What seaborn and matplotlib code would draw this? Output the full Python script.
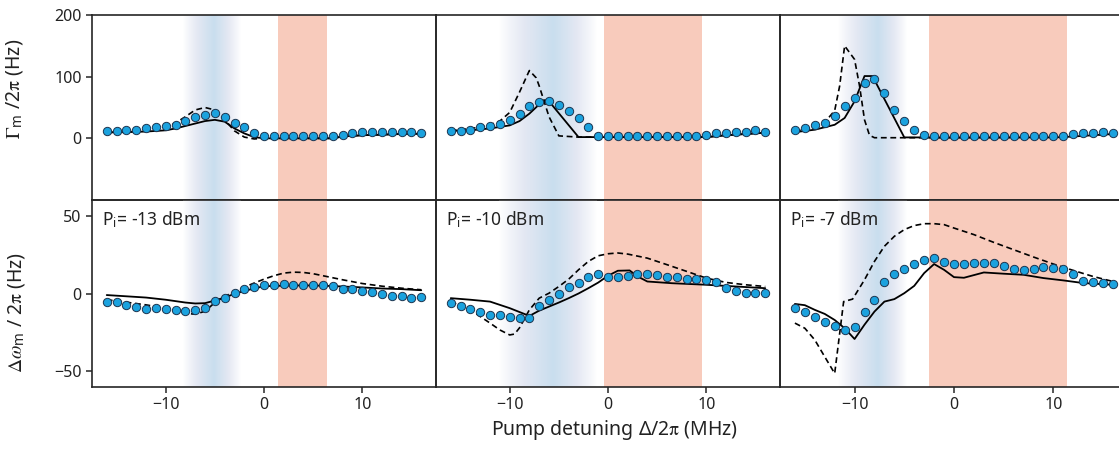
import numpy as np
import pandas as pd
import matplotlib
matplotlib.use("Agg")
import matplotlib.pyplot as plt
from matplotlib.colors import LinearSegmentedColormap
import seaborn as sns

# ---------------- data ----------------
x_dots = list(range(-16, 17))
powers = ["-13", "-10", "-7"]

# measured damping rate (top row)
gamma_dots_1 = [12, 12, 13, 14, 17, 18, 20, 22, 28, 35, 38, 41, 34, 25, 18, 9, 4,
                3, 3, 3, 3, 3, 3, 3, 6, 9, 10, 10, 10, 10, 11, 11, 9]
gamma_dots_2 = [12, 12, 14, 18, 20, 23, 30, 39, 53, 59, 60, 54, 44, 33, 18, 4, 3,
                3, 3, 3, 3, 3, 3, 3, 3, 3, 6, 9, 9, 10, 10, 13, 11]
gamma_dots_3 = [14, 17, 21, 25, 36, 53, 66, 90, 97, 73, 46, 28, 13, 5, 3, 3, 3,
                3, 3, 3, 3, 3, 3, 3, 3, 3, 3, 3, 7, 8, 9, 10, 9]

# measured frequency shift (bottom row)
shift_dots_1 = [-5.6, -5.4, -7.7, -8.6, -9.7, -9.4, -10.1, -10.5, -11.2, -10.9, -9.4,
                -4.9, -2.8, 0.4, 2.8, 4.1, 5.2, 5.2, 5.8, 5.6, 5.6, 5.6, 5.2, 4.7,
                3.2, 2.6, 1.9, 0.9, -0.6, -1.9, -1.7, -3.0, -2.1]
shift_dots_2 = [-6.4, -7.9, -9.7, -11.8, -13.5, -13.7, -14.8, -15.7, -15.7, -8.2, -3.9,
                -0.4, 4.1, 6.9, 10.5, 12.7, 10.7, 10.7, 11.2, 12.2, 12.2, 11.8, 10.5,
                10.3, 9.2, 9.4, 8.8, 7.1, 3.6, 1.3, 0.4, 0.4, 0.4]
shift_dots_3 = [-9.4, -12.0, -15.2, -18.5, -20.6, -23.4, -21.5, -12.0, -4.1, 7.7, 12.7,
                15.5, 18.7, 21.7, 22.5, 20.0, 18.7, 18.9, 19.3, 19.7, 19.5, 17.6, 15.5,
                15.2, 15.7, 17.0, 16.3, 15.9, 12.7, 7.9, 7.1, 6.9, 6.0]

# model curves: solid (full model) and dashed (simple model)
g1_sol_x = [-16, -14, -12, -10, -9, -8, -7, -6, -5, -4, -3, -2, -1, 0, 7, 8, 10, 12, 14, 16]
g1_sol_y = [10, 10, 11, 13, 16, 20, 24, 28, 30, 27, 16, 8, 2, 0, 0, 3, 5, 6, 7, 7.5]
g1_das_x = [-16, -12, -10, -9, -8, -7, -6, -5, -4, -3, -2, -1, 0, 7, 8, 10, 12, 14, 16]
g1_das_y = [9, 12, 17, 25, 35, 46, 50, 46, 30, 12, 2, -1, 0, 0, 3, 5, 6, 7, 7.5]

g2_sol_x = [-16, -14, -12, -10, -9, -8, -7, -6.4, -6, -3, 0, 10, 12, 14, 16]
g2_sol_y = [12, 13, 16, 21, 28, 40, 55, 62, 60, 2, 2, 2, 5, 7, 9]
g2_das_x = [-16, -15, -14, -13, -12, -11, -10, -9, -8, -7.3, -7, -6, -5, -3, 0, 10, 12, 14, 16]
g2_das_y = [13, 14, 16, 18, 22, 28, 42, 75, 110, 98, 85, 35, 4, 2, 2, 2, 5, 7, 9]

g3_sol_x = [-16, -14, -12, -11, -10, -9, -8.2, -5, 0, 10, 11, 16]
g3_sol_y = [10, 14, 22, 33, 60, 101, 101, 1.5, 1.5, 1.5, 2, 7]
g3_das_x = [-16, -15, -14, -13, -12, -11.5, -11, -10, -9.5, -9, -8.5, -8, 0, 10, 11, 16]
g3_das_y = [12, 14, 18, 26, 45, 85, 150, 128, 85, 30, 5, 1, 1, 1.5, 2, 7]

s1_sol_x = [-16, -14, -12, -10, -8, -7, -6, -5, -4, -3, -2, -1, 0, 2, 4, 6, 8, 10, 12, 14, 16]
s1_sol_y = [-1, -1.8, -2.6, -4, -5.8, -6.4, -6.2, -4.5, -2.6, -0.2, 1.7, 3.2, 4.7, 5, 5.2,
            5, 4.5, 3.9, 3.2, 2.8, 2.1]
s1_das_x = [-16, -14, -12, -10, -8, -7, -6, -5, -4, -3, -2, -1, 0, 1, 2, 3, 4, 5, 6, 8,
            10, 12, 14, 16]
s1_das_y = [-4, -5.6, -7.3, -9.4, -12.7, -13.3, -11.4, -5.8, -1.9, 1.3, 4.1, 6.7, 9.2,
            11.4, 13.1, 13.7, 13.5, 12.7, 11.4, 8.8, 6.4, 4.7, 3.4, 2.4]

s2_sol_x = [-16, -14, -12, -10, -8, -7, -6, -5, -4, -3, -2, -1, 0, 1, 2.2, 3, 4, 6.5,
            10, 13, 16]
s2_sol_y = [-3, -4, -5.2, -9.4, -14.4, -11, -8.4, -5.8, -3, 0, 3.4, 7, 11.4, 14.6, 14.8,
            11, 7.7, 6.6, 5.6, 4.5, 3.4]
s2_das_x = [-16, -14, -12, -11, -10, -9.5, -9, -8, -7, -6, -5, -4, -3, -2, -1, 0, 1, 2,
            4, 6, 8, 10, 12, 14, 16]
s2_das_y = [-5.2, -10.5, -19, -23.4, -26.6, -26, -22, -10.5, -3, 0.2, 4.5, 9.2, 15.2,
            20.6, 24.2, 25.5, 26, 25.3, 22.7, 18.5, 14.2, 9.9, 7.1, 5.6, 4.5]

s3_sol_x = [-16, -15, -14, -13, -12, -11, -10, -9, -8, -7, -6, -5, -4, -3, -2, -1, 0,
            1, 3, 5, 7, 9, 11, 13, 16]
s3_sol_y = [-6.7, -7.5, -10.5, -13.1, -17, -22.3, -29.2, -20, -11.6, -5.2, -3.6, 0.2,
            4.9, 13.1, 18.9, 15.2, 10.5, 10.1, 13.5, 12.7, 12, 9.9, 8.4, 6.7, 5.6]
s3_das_x = [-16, -15, -14, -13, -12, -11.1, -10.2, -9, -8, -7, -6, -5, -4, -3, -2, -1,
            0, 2, 4, 6, 8, 10, 12, 14, 16]
s3_das_y = [-19, -22.3, -29.8, -40.6, -51.3, -5.2, -3.6, 8.8, 20.6, 30.3, 36.7, 41,
            43.6, 44.8, 44.8, 44.2, 42, 37.8, 32.8, 28.1, 23.4, 18.9, 14.8, 10.9, 7.7]

# shaded regions (MHz): blue gradient (start, peak, end) and red band (start, end)
blue_bands = [(-8.2, -5.1, -2.4), (-11.1, -5.6, -1.2), (-11.7, -7.7, -4.8)]
red_bands = [(1.4, 6.4), (-0.4, 9.6), (-2.5, 11.4)]

gamma_dots = [gamma_dots_1, gamma_dots_2, gamma_dots_3]
shift_dots = [shift_dots_1, shift_dots_2, shift_dots_3]
gamma_sol = [(g1_sol_x, g1_sol_y), (g2_sol_x, g2_sol_y), (g3_sol_x, g3_sol_y)]
gamma_das = [(g1_das_x, g1_das_y), (g2_das_x, g2_das_y), (g3_das_x, g3_das_y)]
shift_sol = [(s1_sol_x, s1_sol_y), (s2_sol_x, s2_sol_y), (s3_sol_x, s3_sol_y)]
shift_das = [(s1_das_x, s1_das_y), (s2_das_x, s2_das_y), (s3_das_x, s3_das_y)]

# ---------------- style ----------------
sns.set_style("white")
plt.rcParams["font.family"] = ["Noto Sans", "DejaVu Sans"]
plt.rcParams["mathtext.fontset"] = "custom"
plt.rcParams["mathtext.rm"] = "STIXGeneral"
plt.rcParams["mathtext.it"] = "STIXGeneral:italic"
plt.rcParams["mathtext.bf"] = "STIXGeneral:bold"
plt.rcParams["mathtext.sf"] = "Noto Sans"
plt.rcParams["axes.unicode_minus"] = True

W, H = 1119, 451
fig = plt.figure(figsize=(W / 100, H / 100), dpi=100)

dark = "#262626"
txt = "#222222"
dot_face = "#1ba2de"
dot_edge = "#1d3550"
red_col = "#f8cbbc"
blue_cmap = LinearSegmentedColormap.from_list(
    "bl", ["#ffffff", "#e4e8f3", "#c9deee"])

col_left = [92, 436, 780]
col_w = 344
XLIM = (-17.5, 17.5)


def px_axes(x0, y_top, w, h):
    return fig.add_axes([x0 / W, 1 - (y_top + h) / H, w / W, h / H])


def shade(ax, ylim, col):
    b0, bp, b1 = blue_bands[col]
    xs = np.linspace(b0, b1, 400)
    t = np.where(xs < bp, (xs - b0) / (bp - b0), (b1 - xs) / (b1 - bp))
    t = np.clip(t, 0, 1) ** 0.9
    img = blue_cmap(t)[None, :, :]
    ax.imshow(img, extent=[b0, b1, ylim[0], ylim[1]], aspect="auto",
              zorder=0, interpolation="bilinear")
    r0, r1 = red_bands[col]
    ax.axvspan(r0, r1, color=red_col, lw=0, zorder=0)


def style(ax, ylim, yticks, show_y, show_x):
    ax.set_xlim(*XLIM)
    ax.set_ylim(*ylim)
    ax.set_facecolor("none")
    for sp in ax.spines.values():
        sp.set_visible(True)
        sp.set_color(dark)
        sp.set_linewidth(1.2)
    ax.set_xticks([-10, 0, 10])
    ax.set_yticks(yticks)
    ax.tick_params(axis="both", direction="out", length=4.5, width=1.1,
                   color=dark, labelsize=11.5, labelcolor=txt, pad=3)
    ax.tick_params(axis="x", bottom=show_x, labelbottom=show_x)
    ax.tick_params(axis="y", left=show_y, labelleft=show_y)
    ax.set_xlabel("")
    ax.set_ylabel("")


def draw(ax, xd, yd, sol, das):
    sns.lineplot(x=sol[0], y=sol[1], ax=ax, color="black", lw=1.3,
                 sort=False, estimator=None, zorder=2)
    sns.lineplot(x=das[0], y=das[1], ax=ax, color="black", lw=1.2,
                 linestyle=(0, (3.5, 2.2)), sort=False, estimator=None, zorder=2)
    sns.scatterplot(x=xd, y=yd, ax=ax, s=36, color=dot_face,
                    edgecolor=dot_edge, linewidth=0.7, zorder=3)


TOP_LIM = (-100, 200)
BOT_LIM = (-60, 60)

for c in range(3):
    w = col_w if c < 2 else col_w + 4
    ax_t = px_axes(col_left[c], 15, w, 185)
    ax_b = px_axes(col_left[c], 200, w, 187)

    shade(ax_t, TOP_LIM, c)
    shade(ax_b, BOT_LIM, c)
    draw(ax_t, x_dots, gamma_dots[c], gamma_sol[c], gamma_das[c])
    draw(ax_b, x_dots, shift_dots[c], shift_sol[c], shift_das[c])

    style(ax_t, TOP_LIM, [0, 100, 200], show_y=(c == 0), show_x=False)
    style(ax_b, BOT_LIM, [-50, 0, 50], show_y=(c == 0), show_x=True)

    ax_b.text(0.028, 0.895, r"P$_{\mathsf{i}}$= " + powers[c] + " dBm",
              transform=ax_b.transAxes, fontsize=12.5, color=txt,
              ha="left", va="center")

    if c == 0:
        ax_t.set_ylabel(r"$\Gamma_{\mathsf{m}}$ /2$\mathrm{\pi}$ (Hz)", fontsize=14,
                        color=txt)
        ax_t.yaxis.set_label_coords(-0.195, 0.6)
        ax_b.set_ylabel(r"$\Delta\omega_{\mathsf{m}}$ / 2$\mathrm{\pi}$ (Hz)",
                        fontsize=14, color=txt)
        ax_b.yaxis.set_label_coords(-0.19, 0.4)

fig.text(614 / W, 1 - 430 / H, r"Pump detuning $\mathsf{\Delta}$/2$\mathrm{\pi}$ (MHz)",
         ha="center", va="center", fontsize=14, color=txt)

fig.savefig("out.png", dpi=100)
